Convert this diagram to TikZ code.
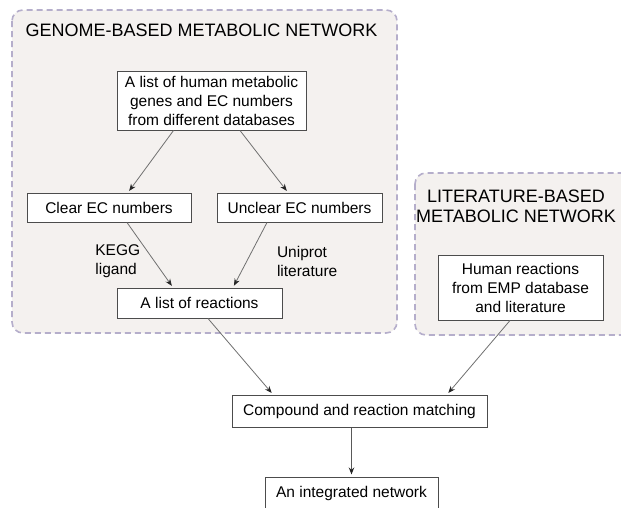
\documentclass[tikz,border=0pt]{standalone}
\usepackage{fontspec}
\setmainfont{Liberation Sans}
\usetikzlibrary{
  shapes,
  calc,
  positioning,
  arrows.meta
}
\definecolor{groupfill}{HTML}{F4F1EF}
\definecolor{groupline}{HTML}{B5AECB}
\definecolor{arrowgray}{HTML}{707070}
\tikzset{
  box/.style={rectangle,draw=black!70,line width=1pt,fill=white,align=center,
    font=\fontsize{15.5}{19}\selectfont,inner sep=2pt},
  group/.style={draw=groupline,fill=groupfill,dashed,dash pattern=on 6pt off 4pt,
    line width=1.6pt,rounded corners=11pt},
  grouptitle/.style={font=\fontsize{18}{20}\selectfont,align=center,inner sep=0pt},
  flow/.style={draw=arrowgray,line width=0.8pt,shorten >=2pt,
    -{Stealth[length=7pt,width=5.5pt,black!85]}},
  lbl/.style={font=\fontsize{15.5}{19}\selectfont,align=left,inner sep=2pt}
}
\begin{document}
\begin{tikzpicture}[x=1pt,y=-1pt]
  \useasboundingbox (0,0) rectangle (621,507);
  \fill[white] (0,0) rectangle (621,507);
  \path[group] (12,10) rectangle (397,333);
  \path[group] (415,173) rectangle (645,335);
  \node[grouptitle] (gtitle) at (201.5,30) {GENOME-BASED METABOLIC NETWORK};
  \node[grouptitle] (ltitle) at (516,206) {LITERATURE-BASED\\METABOLIC NETWORK};

  \node[box,minimum width=189pt,minimum height=59pt] (genes) at (211.5,100.5)
    {A list of human metabolic\\genes and EC numbers\\from different databases};
  \node[box,minimum width=164pt,minimum height=29pt] (clear) at (109,207.5) {Clear EC numbers};
  \node[box,minimum width=165pt,minimum height=29pt] (unclear) at (299.5,207.5) {Unclear EC numbers};
  \node[box,minimum width=165pt,minimum height=30pt] (reactions) at (199.5,303) {A list of reactions};
  \node[box,minimum width=165pt,minimum height=65pt] (human) at (520.5,287.5)
    {Human reactions\\from EMP database\\and literature};
  \node[box,minimum width=255pt,minimum height=32pt] (compound) at (359.5,411)
    {Compound and reaction matching};
  \node[box,minimum width=173pt,minimum height=32pt] (integrated) at (351.5,493)
    {An integrated network};

  \draw[flow] ([xshift=-38pt]genes.south) -- ([xshift=19pt]clear.north);
  \draw[flow] ([xshift=28.5pt]genes.south) -- ([xshift=-11.5pt]unclear.north);
  \draw[flow] ([xshift=18pt]clear.south) -- ([xshift=-26.5pt]reactions.north)
    node[lbl,pos=0.6,left=12pt] (kegg) {KEGG\\ligand};
  \draw[flow] ([xshift=-32.5pt]unclear.south) -- ([xshift=33.5pt]reactions.north)
    node[lbl,pos=0.6,right=28pt] (uniprot) {Uniprot\\literature};
  \draw[flow] ([xshift=8.5pt]reactions.south) -- ([xshift=-86.5pt]compound.north);
  \draw[flow] ([xshift=-10.5pt]human.south) -- ([xshift=87.5pt]compound.north);
  \draw[flow,draw=black!65,line width=1.3pt] (compound.south -| integrated.north) -- (integrated.north);
\end{tikzpicture}
\end{document}
